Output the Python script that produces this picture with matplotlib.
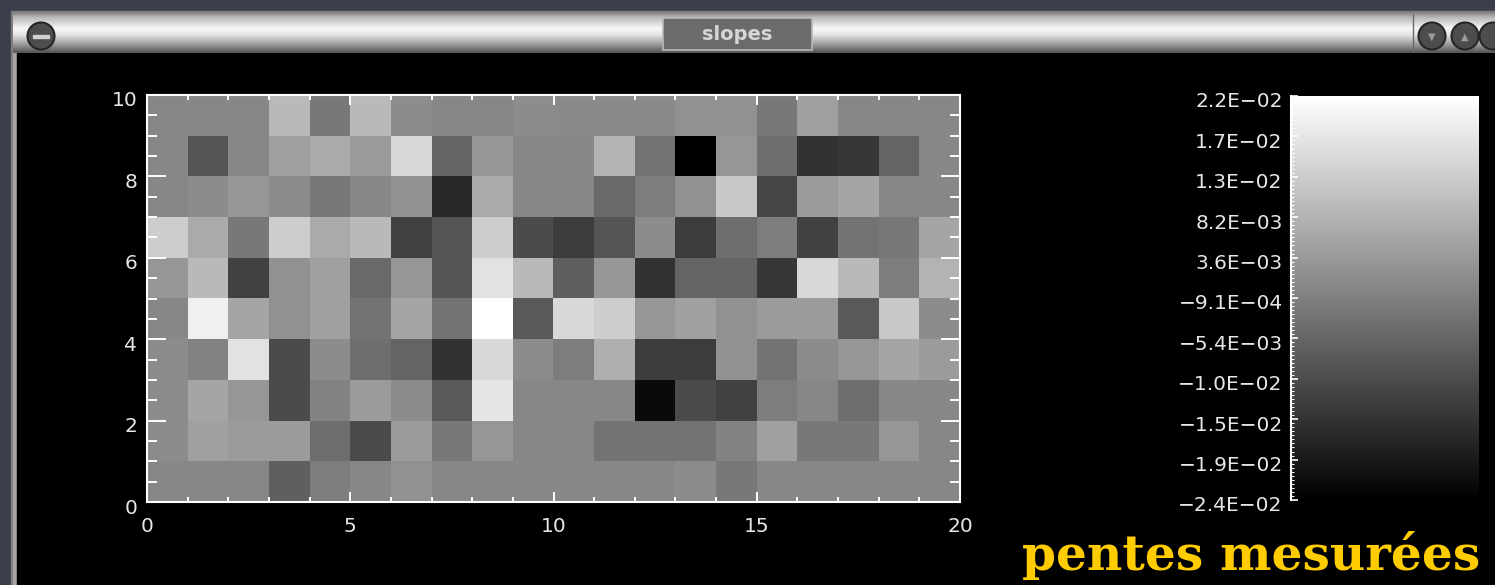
import numpy as np
import matplotlib
matplotlib.use('Agg')
import matplotlib.pyplot as plt
import matplotlib.transforms as mtransforms
from matplotlib.patches import Rectangle, Circle
from matplotlib.ticker import MultipleLocator, FixedLocator, FuncFormatter

# measured slopes in units of 1e-3, one list per row, top row (y 9..10) first
row9 = [0.4, 0.4, 0.4, 9.3, -2.2, 9.3, 1.3, 0.4, 0.4, 1.3, 1.0, 1.0, 1.0, 2.2, 2.2, -2.2, 4.9, 0.4, 0.4, 0.4]
row8 = [0.4, -8.5, 0.4, 4.9, 6.7, 4.0, 14.7, -5.8, 3.1, 0.4, 0.4, 8.4, -3.1, -23.605, 3.1, -4.0, -14.7, -13.8, -5.8, 0.4]
row7 = [0.4, 1.3, 3.1, 1.3, -2.2, 0.4, 2.2, -16.5, 6.7, 0.4, 0.4, -4.9, -1.3, 2.2, 12.0, -11.1, 4.0, 5.8, 0.4, 0.4]
row6 = [12.9, 6.7, -2.2, 12.9, 6.7, 9.3, -12.0, -8.5, 12.9, -10.2, -12.9, -8.5, 1.3, -12.9, -4.0, -1.3, -12.0, -3.1, -2.2, 5.8]
row5 = [3.1, 9.3, -12.0, 2.2, 4.9, -4.9, 3.1, -8.5, 16.5, 9.3, -6.7, 3.1, -14.7, -5.8, -5.8, -13.8, 14.7, 9.3, -1.3, 8.4]
row4 = [0.4, 19.1, 5.8, 2.2, 4.9, -3.1, 5.8, -3.1, 21.785, -7.6, 14.7, 12.9, 3.1, 4.9, 2.2, 4.0, 4.0, -7.6, 12.0, 1.3]
row3 = [1.3, -0.5, 16.5, -10.2, 1.3, -4.0, -5.8, -14.7, 14.7, 1.3, -1.3, 7.6, -12.9, -12.9, 2.2, -3.1, 1.3, 3.1, 5.8, 4.0]
row2 = [1.3, 5.8, 3.1, -10.2, -0.5, 4.0, 1.3, -7.6, 17.3, 0.4, 0.4, 0.4, -21.8, -10.2, -12.0, -1.3, 0.4, -4.0, 0.4, 0.4]
row1 = [1.3, 4.9, 4.0, 4.0, -4.0, -10.2, 4.0, -2.2, 3.1, 0.4, 0.4, -3.1, -3.1, -3.1, -0.5, 4.9, -2.2, -2.2, 3.1, 0.4]
row0 = [0.4, 0.4, 0.4, -6.7, -1.3, 0.4, 2.2, 0.4, 0.4, 0.4, 0.4, 0.4, 0.4, 1.3, -2.2, 0.4, 0.4, 0.4, 0.4, 0.4]

slopes = np.array([row9, row8, row7, row6, row5, row4, row3, row2, row1, row0]) * 1e-3
ny, nx = slopes.shape
vmin, vmax = slopes.min(), slopes.max()
cbar_ticks = np.linspace(vmin, vmax, 11)

window_title = 'slopes'
caption = 'pentes mesurées'

W, H = 1495, 585
fig = plt.figure(figsize=(W / 100, H / 100), dpi=100, facecolor='#3a3e4b')

# window chrome in pixel coords
bg = fig.add_axes([0, 0, 1, 1])
bg.add_patch(Rectangle((11, 11), W, H, color='#7c7c7c', zorder=1))
bg.add_patch(Rectangle((13, 53), 3, H, color='#a4a4a4', zorder=1))
bg.add_patch(Rectangle((17, 53), W, H, color='black', zorder=1))
grad = np.interp(np.linspace(0, 1, 80), [0, 0.12, 0.4, 0.55, 0.8, 1],
                 [0.5, 0.72, 0.97, 0.9, 0.6, 0.33])
bg.imshow(grad[:, None], cmap='gray', vmin=0, vmax=1, extent=(13, W, 53, 12),
          aspect='auto', origin='upper', zorder=2)
bg.plot([1413, 1413], [14, 52], color='#6a6a6a', lw=1, zorder=3)
bg.add_patch(Rectangle((663, 18), 149, 32, fc='#6b6b6b', ec='#b8b8b8', lw=1.2, zorder=3))
bg.text(737, 34, window_title, ha='center', va='center', color='#d6d6d6',
        fontsize=14, fontweight='bold', zorder=4)
bg.add_patch(Circle((41, 36), 13.5, fc='#4d4d4d', ec='#262626', lw=1.5, zorder=3))
bg.add_patch(Rectangle((33, 34.5), 16, 3, color='#d0d0d0', zorder=4))
for cx, glyph in [(1432, '▼'), (1465, '▲'), (1493, '')]:
    bg.add_patch(Circle((cx, 36), 13.5, fc='#4d4d4d', ec='#262626', lw=1.5, zorder=3))
    if glyph:
        bg.text(cx, 37, glyph, ha='center', va='center', color='#9a9a9a', fontsize=7, zorder=4)
bg.set_xlim(0, W)
bg.set_ylim(H, 0)
bg.axis('off')

# slopes map
ax = fig.add_axes([147 / W, 1 - 502 / H, (960 - 147) / W, (502 - 95) / H])
ax.set_facecolor('black')
im = ax.imshow(slopes, cmap='gray', vmin=vmin, vmax=vmax, extent=(0, nx, 0, ny),
               origin='upper', aspect='auto', interpolation='nearest')
ax.set_xlim(0, nx)
ax.set_ylim(0, ny)
ax.set_xticks([0, 5, 10, 15, 20])
ax.set_yticks([0, 2, 4, 6, 8, 10])
ax.xaxis.set_minor_locator(MultipleLocator(1))
ax.yaxis.set_minor_locator(MultipleLocator(0.5))
ax.tick_params(axis='both', which='both', direction='in', color='white', labelcolor='#e6e6e6',
               labelsize=14.5, top=True, right=True, width=1.4)
ax.tick_params(axis='x', which='major', length=7, pad=11)
ax.tick_params(axis='x', which='minor', length=3.6)
ax.tick_params(axis='y', which='major', length=14, pad=7)
ax.tick_params(axis='y', which='minor', length=7)
for s in ax.spines.values():
    s.set_color('white')
    s.set_linewidth(1.5)

down = mtransforms.ScaledTranslation(0, -0.04, fig.dpi_scale_trans)
for lab in ax.get_yticklabels():
    lab.set_transform(lab.get_transform() + down)

# colour bar
cax = fig.add_axes([1291 / W, 1 - 500 / H, (1479 - 1291) / W, (500 - 96) / H])
cb = fig.colorbar(im, cax=cax, ticks=cbar_ticks)
cb.outline.set_visible(False)
cax.yaxis.set_ticks_position('left')
cax.yaxis.set_major_formatter(FuncFormatter(lambda v, p: ('%.1E' % v).replace('-', '\u2212')))
cax.yaxis.set_minor_locator(FixedLocator(np.linspace(vmin, vmax, 101)))
cax.tick_params(axis='y', which='major', direction='in', length=5, width=1.2, color='white',
                labelcolor='#e6e6e6', labelsize=14.5, pad=6)
cax.tick_params(axis='y', which='minor', direction='in', length=2.5, width=0.8, color='white')
cax.plot([0, 0], [0, 1], transform=cax.transAxes, color='white', lw=1.5, clip_on=False)
for lab in cax.get_yticklabels():
    lab.set_transform(lab.get_transform() + down)

fig.text(1480 / W, 1 - 570 / H, caption, ha='right', va='baseline', color='#ffcc00',
         fontsize=35, fontweight='bold', family='DejaVu Serif')

fig.savefig('out.png', dpi=100, facecolor=fig.get_facecolor())
